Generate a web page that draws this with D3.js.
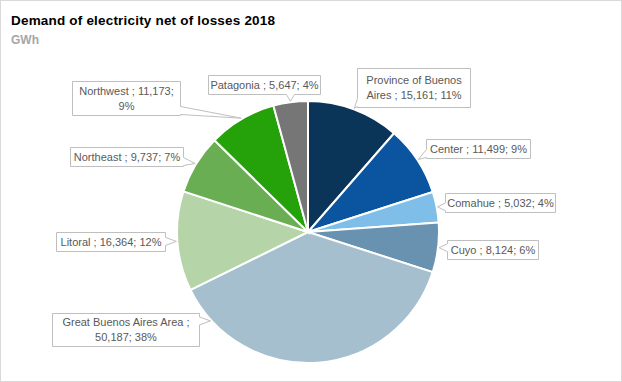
<!DOCTYPE html>
<html>
<head>
<meta charset="utf-8">
<script src="https://cdn.jsdelivr.net/npm/d3@7"></script>
<style>
  body { margin: 0; background: #fff; }
  svg { display: block; font-family: "Liberation Sans", Arial, sans-serif; }
</style>
</head>
<body>
<div id="chart"></div>
<script>
// Data, clockwise from 12 o'clock
const regions = ["Province of Buenos Aires", "Center", "Comahue", "Cuyo",
                 "Great Buenos Aires Area", "Litoral", "Northeast", "Northwest", "Patagonia"];
const demand  = [15161, 11499, 5032, 8124, 50187, 16364, 9737, 11173, 5647];
// percentages as printed on the labels (rounded to sum to 100)
const shares  = [11, 9, 4, 6, 38, 12, 7, 9, 4];
const colors  = ["#0b3558", "#0a54a0", "#7fbee9", "#6991b0", "#a6bfcf",
                 "#b5d5a8", "#6aae53", "#25a10a", "#767676"];

// label boxes (layout only): x, y, w, h, text lines
const labelBoxes = [
    {x: 357, y: 68,  w: 113, h: 39, split: n => ["Province of Buenos", `Aires ; ${n}`]},
    {x: 426, y: 139, w: 104, h: 19},
    {x: 445, y: 193, w: 110, h: 19},
    {x: 447, y: 240, w: 91,  h: 19},
    {x: 52,  y: 313, w: 147, h: 33, split: (n, v, p) => ["Great Buenos Aires Area ;", `${v}; ${p}`]},
    {x: 56,  y: 232, w: 109, h: 19},
    {x: 70,  y: 147, w: 113, h: 19},
    {x: 72,  y: 81,  w: 108, h: 34, split: (n, v, p) => [`Northwest ; ${v};`, p]},
    {x: 208, y: 75,  w: 112, h: 19},
];

const width = 622, height = 382;
const cx = 308, cy = 232, r = 131;

const fmt = d3.format(",");

const data = regions.map((name, i) => ({
    name, value: demand[i], share: shares[i], color: colors[i], box: labelBoxes[i]
}));

const svg = d3.select("#chart").append("svg")
    .attr("width", width)
    .attr("height", height);

svg.append("rect")
    .attr("x", 0.5).attr("y", 0.5)
    .attr("width", width - 1).attr("height", height - 1)
    .attr("fill", "#fff")
    .attr("stroke", "#d9d9d9");

svg.append("text")
    .attr("x", 11).attr("y", 25)
    .attr("font-size", 13.5)
    .attr("font-weight", "bold")
    .attr("fill", "#000")
    .attr("textLength", 264)
    .text("Demand of electricity net of losses 2018");

svg.append("text")
    .attr("x", 11).attr("y", 44)
    .attr("font-size", 12)
    .attr("font-weight", "bold")
    .attr("fill", "#a6a6a6")
    .text("GWh");

const pie = d3.pie().sort(null).value(d => d.value);
const arcs = pie(data);
const arc = d3.arc().innerRadius(0).outerRadius(r);

const g = svg.append("g").attr("transform", `translate(${cx},${cy})`);

g.selectAll("path.slice")
    .data(arcs)
    .join("path")
    .attr("class", "slice")
    .attr("d", arc)
    .attr("fill", d => d.data.color)
    .attr("stroke", "#fff")
    .attr("stroke-width", 2);

// callout outline with a pointer notch toward the tip
function calloutPath(b, tip) {
    const x0 = b.x, y0 = b.y, x1 = b.x + b.w, y1 = b.y + b.h;
    const nw = 8;
    const clamp = (v, a, z) => Math.max(a, Math.min(z, v));
    if (tip[0] < x0) {
        const m = clamp(tip[1], y0 + nw / 2 + 1, y1 - nw / 2 - 1);
        return `M${x0},${y0}H${x1}V${y1}H${x0}V${m + nw / 2}L${tip[0]},${tip[1]}L${x0},${m - nw / 2}Z`;
    }
    if (tip[0] > x1) {
        const m = clamp(tip[1], y0 + nw / 2 + 1, y1 - nw / 2 - 1);
        return `M${x0},${y0}H${x1}V${m - nw / 2}L${tip[0]},${tip[1]}L${x1},${m + nw / 2}V${y1}H${x0}Z`;
    }
    if (tip[1] > y1) {
        const m = clamp(tip[0], x0 + nw / 2 + 1, x1 - nw / 2 - 1);
        return `M${x0},${y0}H${x1}V${y1}H${m + nw / 2}L${tip[0]},${tip[1]}L${m - nw / 2},${y1}H${x0}Z`;
    }
    const m = clamp(tip[0], x0 + nw / 2 + 1, x1 - nw / 2 - 1);
    return `M${x0},${y0}H${m - nw / 2}L${tip[0]},${tip[1]}L${m + nw / 2},${y0}H${x1}V${y1}H${x0}Z`;
}

// angle (clockwise from 12 o'clock) of a point relative to the pie centre
const angleOf = (x, y) => {
    let a = Math.atan2(x - cx, -(y - cy));
    if (a < 0) a += 2 * Math.PI;
    return a;
};

const labels = svg.append("g").attr("class", "labels");

arcs.forEach(d => {
    const b = d.data.box;
    const mid = (d.startAngle + d.endAngle) / 2;
    // nearest corner/edge point of the box to the centre
    const nx = Math.max(b.x, Math.min(cx, b.x + b.w));
    const ny = Math.max(b.y, Math.min(cy, b.y + b.h));
    const boxAngle = angleOf(nx, ny);
    let diff = Math.abs(boxAngle - mid);
    if (diff > Math.PI) diff = 2 * Math.PI - diff;
    let a = mid;
    if (diff > Math.PI / 4) {
        const pad = 0.05;
        a = Math.max(d.startAngle + pad, Math.min(d.endAngle - pad, boxAngle - 0.1));
    }
    const rr = r + 1;
    const tip = [cx + Math.sin(a) * rr, cy - Math.cos(a) * rr];

    labels.append("path")
        .attr("d", calloutPath({x: b.x + 0.5, y: b.y + 0.5, w: b.w, h: b.h}, tip))
        .attr("fill", "#fff")
        .attr("stroke", "#bfbfbf")
        .attr("stroke-width", 1);

    const v = fmt(d.data.value), p = d.data.share + "%";
    const lines = b.split ? b.split(`${v}; ${p}`, v, p) : [`${d.data.name} ; ${v}; ${p}`];

    const t = labels.append("text")
        .attr("font-size", 11)
        .attr("fill", "#595959")
        .attr("text-anchor", "middle");
    const lh = 15;
    const startY = b.y + b.h / 2 - (lines.length - 1) * lh / 2 + 4;
    lines.forEach((s, i) => {
        t.append("tspan")
            .attr("x", b.x + b.w / 2 + 0.5)
            .attr("y", startY + i * lh)
            .text(s);
    });
});
</script>
</body>
</html>
